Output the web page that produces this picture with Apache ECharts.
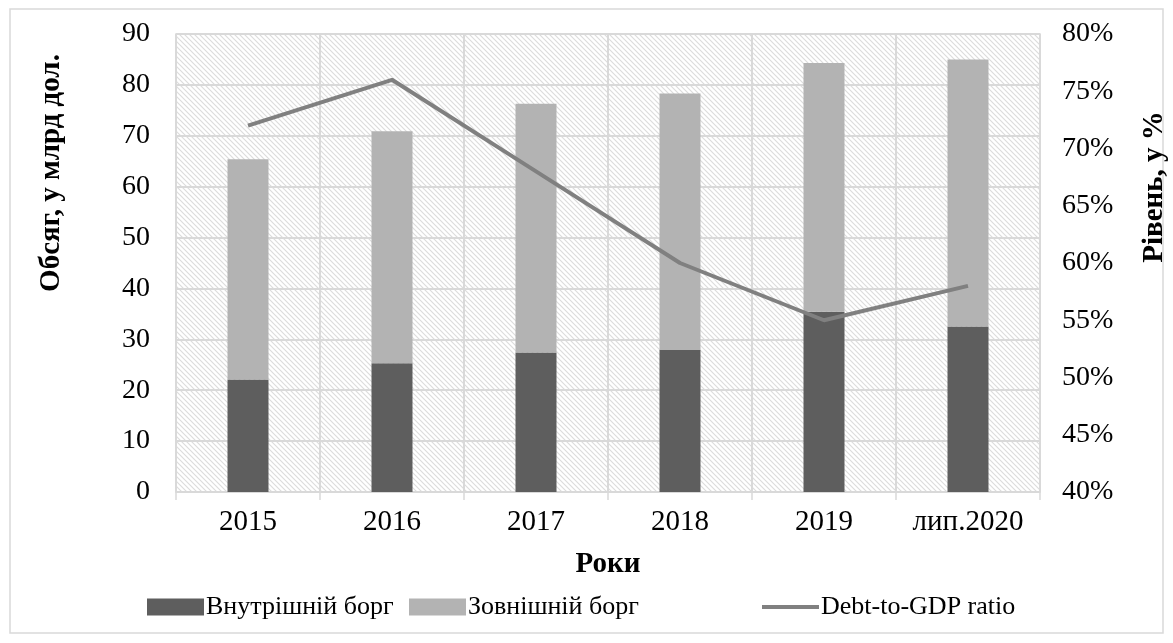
<!DOCTYPE html>
<html>
<head>
<meta charset="utf-8">
<script src="https://cdn.jsdelivr.net/npm/echarts@6/dist/echarts.min.js"></script>
<style>
  html, body { margin: 0; padding: 0; background: #fff; }
  #chart { width: 1173px; height: 643px; }
</style>
</head>
<body>
<div id="chart"></div>
<script>
// categories and values
var years = ["2015", "2016", "2017", "2018", "2019", "лип.2020"];
var domesticDebt = [22.1, 25.3, 27.4, 27.9, 35.4, 32.5];
var externalDebt = [43.3, 45.6, 48.9, 50.4, 48.9, 52.5];
var debtToGdp = [72, 76, 68, 60, 55, 58];
var seriesNames = ["Внутрішній борг", "Зовнішній борг", "Debt-to-GDP ratio"];

var FONT = "Liberation Serif";
var GRID_COLOR = "#d9d9d9";

// діагональне штрихування фону
function makeHatch() {
  var p = 5;
  var c = document.createElement("canvas");
  c.width = p;
  c.height = p;
  var ctx = c.getContext("2d");
  ctx.strokeStyle = "#dcdcdc";
  ctx.lineWidth = 1.2;
  for (var k = -1; k <= 1; k++) {
    ctx.beginPath();
    ctx.moveTo(k * p - 1, -1);
    ctx.lineTo(k * p + p + 1, p + 1);
    ctx.stroke();
  }
  return { image: c, repeat: "repeat" };
}

// окрема легенда для кожного ряду, як в Excel
function legendAt(left, item) {
  return {
    bottom: 23,
    left: left,
    padding: 0,
    itemWidth: 57,
    itemHeight: 17,
    textStyle: { fontFamily: FONT, fontSize: 26, color: "#000", padding: [0, 0, 0, -3] },
    lineStyle: { width: 4 },
    data: [item]
  };
}

var charts = echarts.init(document.getElementById("chart"));
var option = {
  backgroundColor: "#ffffff",
  animation: false,
  textStyle: { fontFamily: FONT },
  grid: {
    left: 176,
    right: 133,
    top: 34,
    bottom: 151,
    show: true,
    backgroundColor: makeHatch(),
    borderColor: GRID_COLOR,
    borderWidth: 1.5
  },
  legend: [
    legendAt(147, { name: seriesNames[0], icon: "rect" }),
    legendAt(409, { name: seriesNames[1], icon: "rect" }),
    legendAt(760, { name: seriesNames[2], itemStyle: { opacity: 0 } })
  ],
  graphic: [
    {
      type: "rect",
      shape: { x: 10, y: 9, width: 1153, height: 624 },
      style: { fill: "none", stroke: GRID_COLOR, lineWidth: 1.5 },
      silent: true
    },
    {
      type: "text",
      x: 52,
      y: 173,
      rotation: Math.PI / 2,
      style: {
        text: "Обсяг, у млрд дол.",
        font: "bold 29px 'Liberation Serif'",
        fill: "#000",
        align: "center",
        verticalAlign: "middle"
      }
    },
    {
      type: "text",
      x: 1155,
      y: 187,
      rotation: Math.PI / 2,
      style: {
        text: "Рівень, у %",
        font: "bold 29px 'Liberation Serif'",
        fill: "#000",
        align: "center",
        verticalAlign: "middle"
      }
    }
  ],
  xAxis: [
    {
      type: "category",
      data: years,
      boundaryGap: true,
      name: "Роки",
      nameLocation: "middle",
      nameGap: 58,
      nameTextStyle: { fontFamily: FONT, fontSize: 29, fontWeight: "bold", color: "#000" },
      axisLine: { lineStyle: { color: GRID_COLOR, width: 1.5 } },
      axisTick: { show: true, length: 8, lineStyle: { color: GRID_COLOR, width: 1.5 } },
      axisLabel: { fontFamily: FONT, fontSize: 29, color: "#000", margin: 16 },
      splitLine: { show: true, lineStyle: { color: GRID_COLOR, width: 2 } }
    }
  ],
  yAxis: [
    {
      type: "value",
      min: 0,
      max: 90,
      interval: 10,
      axisLine: { show: false },
      axisTick: { show: false },
      axisLabel: { fontFamily: FONT, fontSize: 28, color: "#000", margin: 26 },
      splitLine: { show: true, lineStyle: { color: GRID_COLOR, width: 2 } }
    },
    {
      type: "value",
      min: 40,
      max: 80,
      interval: 5,
      position: "right",
      axisLine: { show: false },
      axisTick: { show: false },
      axisLabel: { fontFamily: FONT, fontSize: 28, color: "#000", margin: 22, formatter: "{value}%" },
      splitLine: { show: false }
    }
  ],
  series: [
    {
      name: seriesNames[0],
      type: "bar",
      stack: "debt",
      data: domesticDebt,
      barWidth: 41,
      itemStyle: { color: "#5e5e5e" }
    },
    {
      name: seriesNames[1],
      type: "bar",
      stack: "debt",
      data: externalDebt,
      barWidth: 41,
      itemStyle: { color: "#b3b3b3" }
    },
    {
      name: seriesNames[2],
      type: "line",
      yAxisIndex: 1,
      data: debtToGdp,
      symbol: "none",
      lineStyle: { color: "#808080", width: 4 },
      itemStyle: { color: "#808080" },
      z: 5
    }
  ]
};
charts.setOption(option);
</script>
</body>
</html>
